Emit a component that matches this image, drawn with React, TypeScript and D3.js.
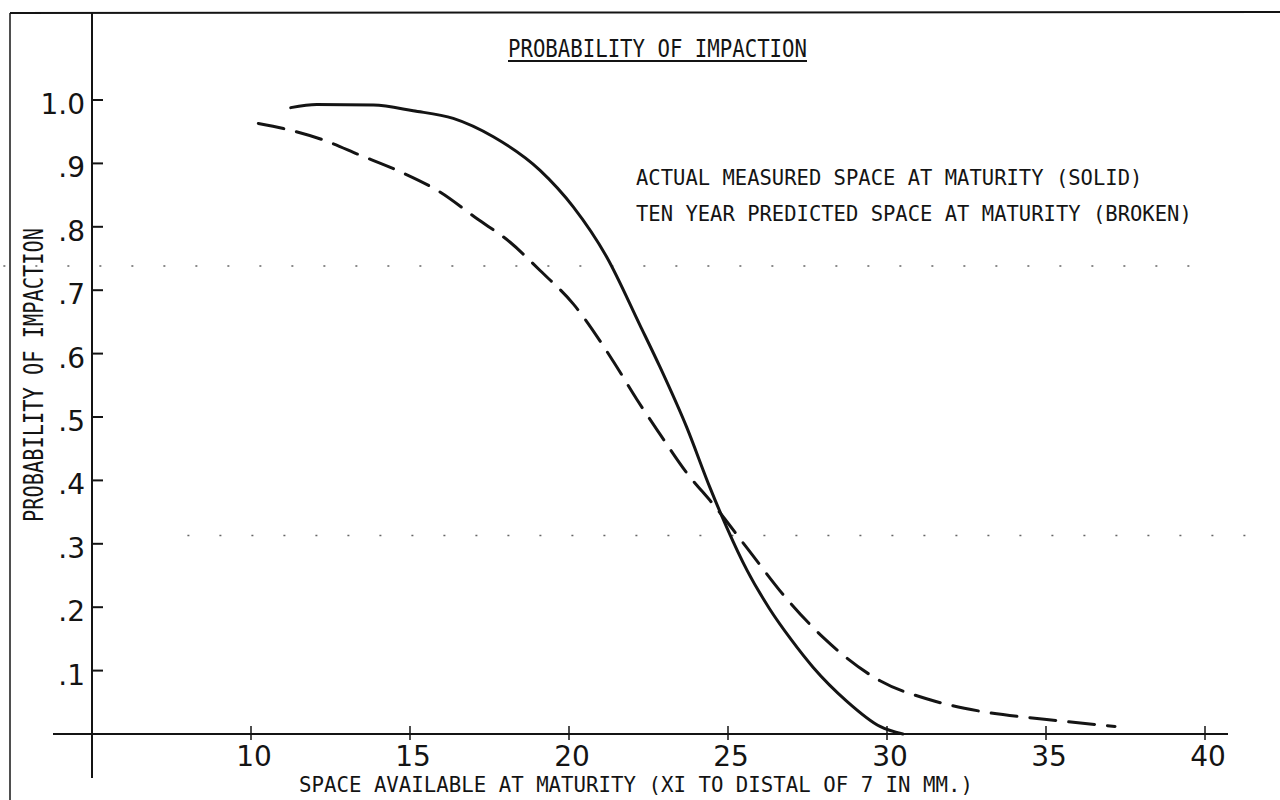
import React from "react";
import * as d3 from "d3";

// ---- Data ----
const xTicks = [10, 15, 20, 25, 30, 35, 40];
const yTicks = [0.1, 0.2, 0.3, 0.4, 0.5, 0.6, 0.7, 0.8, 0.9, 1.0];
const yTickLabels = [".1", ".2", ".3", ".4", ".5", ".6", ".7", ".8", ".9", "1.0"];

// Actual measured space at maturity (solid)
const solidX = [11.25, 12.07, 13.85, 15.1, 16.36, 17.62, 19.09, 20.14, 21.19, 22.23, 22.86, 23.7, 24.43, 24.96, 25.6, 26.3, 27.0, 27.68, 28.73, 29.78, 30.5];
const solidP = [0.988, 0.993, 0.992, 0.983, 0.971, 0.942, 0.889, 0.831, 0.752, 0.645, 0.579, 0.484, 0.389, 0.326, 0.258, 0.198, 0.148, 0.105, 0.052, 0.012, 0.0];

// Ten year predicted space at maturity (broken)
const brokenX = [10.23, 11.02, 12.27, 13.43, 14.69, 15.94, 17.1, 18.14, 19.09, 20.14, 21.39, 22.13, 22.86, 23.7, 24.54, 25.59, 26.8, 28.0, 29.78, 31.35, 32.92, 35.02, 37.17];
const brokenP = [0.963, 0.955, 0.937, 0.913, 0.887, 0.855, 0.813, 0.776, 0.731, 0.678, 0.588, 0.528, 0.473, 0.412, 0.362, 0.294, 0.216, 0.152, 0.084, 0.054, 0.036, 0.023, 0.012];

// Faint dotted scan lines (probability level, x start, x end)
const faintLevels = [0.738, 0.313];
const faintStart = [0.2, 8.0];
const faintEnd = [40.3, 41.5];

const titleText = "PROBABILITY OF IMPACTION";
const legendTexts = [
  "ACTUAL MEASURED SPACE AT MATURITY (SOLID)",
  "TEN YEAR PREDICTED SPACE AT MATURITY (BROKEN)",
];
const xLabel = "SPACE AVAILABLE AT MATURITY (XI TO DISTAL OF 7 IN MM.)";
const yLabel = "PROBABILITY OF IMPACTION";

const W = 1280;
const H = 800;
const INK = "#141414";
const MONO = "'DejaVu Sans Mono', 'Liberation Mono', monospace";
const ROUND = "'DejaVu Sans', 'Noto Sans', sans-serif";

export default function App() {
  const x = d3.scaleLinear().domain([5, 40]).range([92, 1205]);
  const y = d3.scaleLinear().domain([0, 1]).range([734, 100]);

  const line = d3
    .line<[number, number]>()
    .x((d) => x(d[0]))
    .y((d) => y(d[1]))
    .curve(d3.curveMonotoneX);

  const solidPts: [number, number][] = solidX.map((v, i) => [v, solidP[i]]);
  const brokenPts: [number, number][] = brokenX.map((v, i) => [v, brokenP[i]]);

  const x0 = x(5);
  const y0 = y(0);
  const charW = 12.35;

  return (
    <svg
      width={W}
      height={H}
      viewBox={`0 0 ${W} ${H}`}
      style={{ position: "absolute", left: 0, top: 0, background: "#fff" }}
    >
      <rect x={0} y={0} width={W} height={H} fill="#fff" />

      {/* outer frame (top edge and left edge) */}
      <line x1={10} y1={13} x2={W} y2={12} stroke={INK} strokeWidth={2} />
      <line x1={10} y1={13} x2={10} y2={H} stroke={INK} strokeWidth={1.5} />

      {/* faint dotted scan lines */}
      {faintLevels.map((lv, i) => (
        <line
          key={"f" + i}
          x1={x(faintStart[i])}
          x2={x(faintEnd[i])}
          y1={y(lv)}
          y2={y(lv)}
          stroke="#666"
          strokeWidth={1.5}
          strokeDasharray="2 30"
        />
      ))}

      {/* y axis */}
      <line x1={x0} y1={13} x2={x0} y2={778} stroke={INK} strokeWidth={2} />
      {yTicks.map((t, i) => (
        <g key={"yt" + i}>
          <line x1={x0} x2={x0 + 11} y1={y(t)} y2={y(t)} stroke={INK} strokeWidth={2} />
          <text
            x={x0 - 7}
            y={y(t) + 14}
            textAnchor="end"
            fontFamily={ROUND}
            fontSize={28}
            fill={INK}
          >
            {yTickLabels[i]}
          </text>
        </g>
      ))}

      {/* x axis */}
      <line x1={53} y1={y0} x2={1228} y2={y0} stroke={INK} strokeWidth={2} />
      {xTicks.map((t, i) => (
        <g key={"xt" + i}>
          <line x1={x(t)} x2={x(t)} y1={y0 - 8} y2={y0 + 6} stroke={INK} strokeWidth={1.5} />
          <text
            x={x(t) + 3}
            y={y0 + 32}
            textAnchor="middle"
            fontFamily={ROUND}
            fontSize={28}
            fill={INK}
          >
            {t}
          </text>
        </g>
      ))}

      {/* curves */}
      <path d={line(solidPts) || ""} fill="none" stroke={INK} strokeWidth={3} strokeLinecap="round" />
      <path
        d={line(brokenPts) || ""}
        fill="none"
        stroke={INK}
        strokeWidth={3}
        strokeDasharray="26 13"
        strokeLinecap="round"
      />

      {/* title */}
      <text
        x={508}
        y={57}
        fontFamily={MONO}
        fontSize={25}
        textLength={299}
        lengthAdjust="spacingAndGlyphs"
        fill={INK}
      >
        {titleText}
      </text>
      <line x1={508} x2={807} y1={61} y2={61} stroke={INK} strokeWidth={2} />

      {/* legend */}
      {legendTexts.map((t, i) => (
        <text
          key={"lg" + i}
          x={636}
          y={185 + i * 36}
          fontFamily={MONO}
          fontSize={21}
          textLength={t.length * charW}
          lengthAdjust="spacingAndGlyphs"
          fill={INK}
        >
          {t}
        </text>
      ))}

      {/* axis labels */}
      <text
        x={299}
        y={792}
        fontFamily={MONO}
        fontSize={22}
        textLength={674}
        lengthAdjust="spacingAndGlyphs"
        fill={INK}
      >
        {xLabel}
      </text>
      <text
        transform="translate(43, 375) rotate(-90)"
        textAnchor="middle"
        fontFamily={MONO}
        fontSize={26}
        textLength={294}
        lengthAdjust="spacingAndGlyphs"
        fill={INK}
      >
        {yLabel}
      </text>
    </svg>
  );
}
